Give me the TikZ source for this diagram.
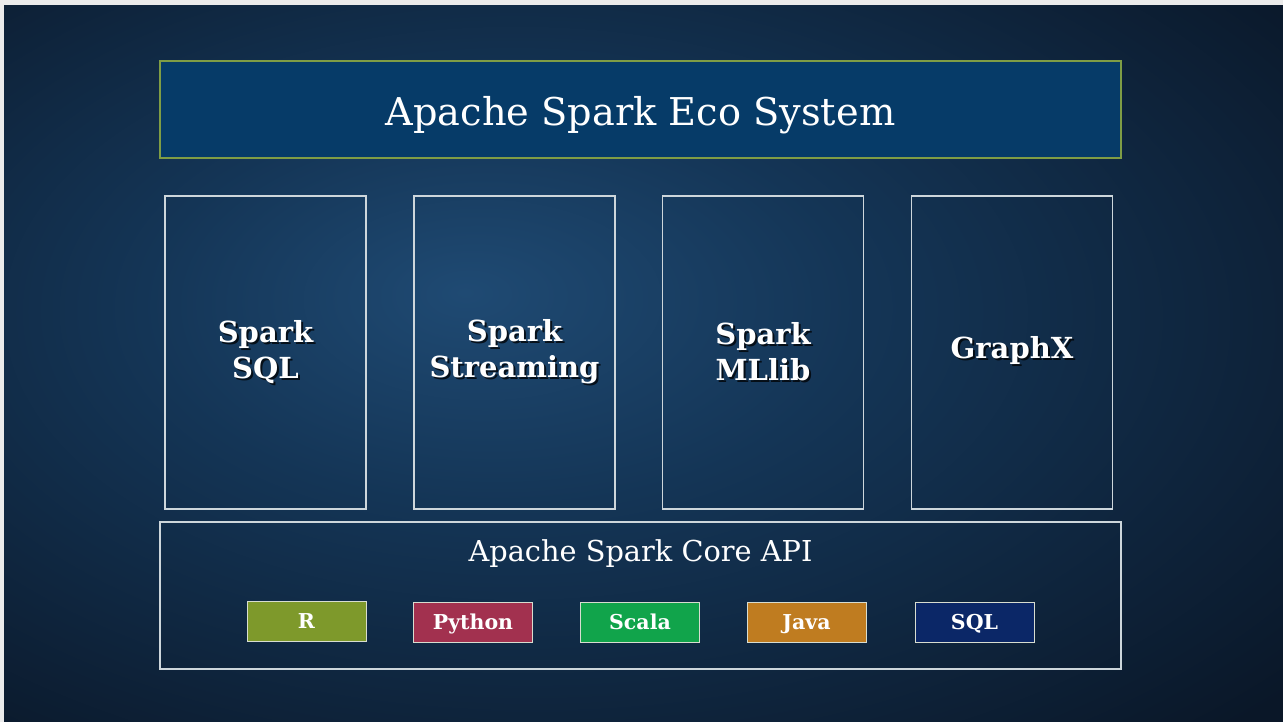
\documentclass[tikz,border=0pt]{standalone}
\usepackage{fontspec}
\setmainfont{DejaVu Serif}
\usetikzlibrary{positioning}
\definecolor{bgin}{HTML}{1F4A73}
\definecolor{bgmid}{HTML}{143556}
\definecolor{bgout}{HTML}{0A1728}
\definecolor{titlefill}{HTML}{063B68}
\definecolor{titleline}{HTML}{7F9D45}
\definecolor{boxline}{HTML}{CDD6DB}
\definecolor{cR}{HTML}{7E992B}
\definecolor{cPy}{HTML}{A2314F}
\definecolor{cSc}{HTML}{11A44B}
\definecolor{cJa}{HTML}{BF7C20}
\definecolor{cSQ}{HTML}{0B2767}
\definecolor{langline}{HTML}{D8DDD0}
\pgfdeclareradialshading{bgshade}{\pgfpoint{-7bp}{5bp}}{color(0bp)=(bgin); color(14bp)=(bgmid); color(38bp)=(bgout); color(70bp)=(bgout)}
\tikzset{
  titlebox/.style={draw=titleline, line width=2pt, fill=titlefill, minimum width=961pt, minimum height=97pt, inner sep=0pt},
  colbox/.style={draw=boxline, line width=1.1pt, minimum width=201pt, minimum height=313pt, inner sep=0pt},
  corebox/.style={draw=boxline, line width=1.1pt, minimum width=961pt, minimum height=147pt, inner sep=0pt},
  langbox/.style={draw=langline, line width=1pt, minimum width=119pt, minimum height=40pt, inner sep=0pt, text height=15pt, text depth=0pt, text=white, font=\fontsize{20.5}{24}\selectfont\bfseries},
  collabel/.style={text=white, align=center, font=\fontsize{29}{36}\selectfont\bfseries},
  colshadow/.style={text=black, opacity=0.75, align=center, font=\fontsize{29}{36}\selectfont\bfseries},
}
\begin{document}
\begin{tikzpicture}[x=1pt,y=-1pt]
\useasboundingbox (0,0) rectangle (1283,722);
\fill[white!92!black] (0,0) rectangle (1283,722);
\shade[shading=bgshade] (4,6) rectangle (1283,722);
% title
\node[titlebox] (title) at (640.5,109.5) {};
\node[text=white, font=\fontsize{38.3}{44}\selectfont] (titletext) at (640.5,115) {Apache Spark Eco System};
% columns
\node[colbox] (c1) at (265.5,352.5) {};
\node[colbox] (c2) at (514.5,352.5) {};
\node[colbox] (c3) at (763,352.5) {};
\node[colbox] (c4) at (1012,352.5) {};
\node[colshadow] at (267.5,354) {Spark\\SQL};
\node[collabel] (l1) at (265.5,352) {Spark\\SQL};
\node[colshadow] at (516.5,354) {Spark\\Streaming};
\node[collabel] (l2) at (514.5,352) {Spark\\Streaming};
\node[colshadow] at (765,354) {Spark\\MLlib};
\node[collabel] (l3) at (763,352) {Spark\\MLlib};
\node[colshadow] at (1014,352) {GraphX};
\node[collabel] (l4) at (1012,350) {GraphX};
% core
\node[corebox] (core) at (640.5,595.5) {};
\node[text=white, font=\fontsize{28.8}{32}\selectfont] (coretext) at (640.5,554) {Apache Spark Core API};
% languages
\node[langbox, fill=cR] (r) at (306.5,621) {R};
\node[langbox, fill=cPy] (py) at (473,622) {Python};
\node[langbox, fill=cSc] (sc) at (640,622) {Scala};
\node[langbox, fill=cJa] (ja) at (806.5,622) {Java};
\node[langbox, fill=cSQ] (sq) at (974.5,622) {SQL};
\end{tikzpicture}
\end{document}
